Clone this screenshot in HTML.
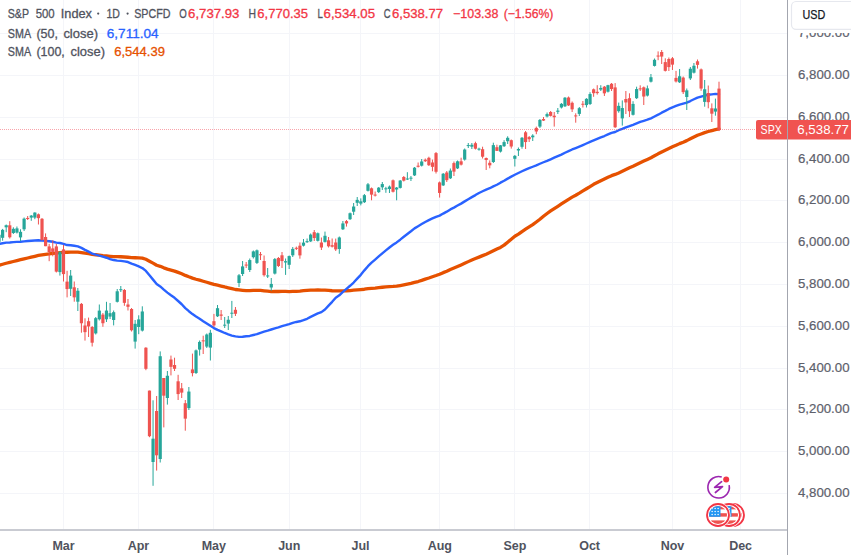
<!DOCTYPE html>
<html><head><meta charset="utf-8"><style>
html,body{margin:0;padding:0;background:#fff;}
body{width:851px;height:555px;overflow:hidden;position:relative;font-family:"Liberation Sans",sans-serif;}
</style></head><body>
<svg width="851" height="555" viewBox="0 0 851 555" style="position:absolute;left:0;top:0">
<line x1="0" y1="493.5" x2="787" y2="493.5" stroke="#f4f5f9" stroke-width="1"/>
<line x1="0" y1="451.5" x2="787" y2="451.5" stroke="#f4f5f9" stroke-width="1"/>
<line x1="0" y1="409.5" x2="787" y2="409.5" stroke="#f4f5f9" stroke-width="1"/>
<line x1="0" y1="368.5" x2="787" y2="368.5" stroke="#f4f5f9" stroke-width="1"/>
<line x1="0" y1="326.5" x2="787" y2="326.5" stroke="#f4f5f9" stroke-width="1"/>
<line x1="0" y1="284.5" x2="787" y2="284.5" stroke="#f4f5f9" stroke-width="1"/>
<line x1="0" y1="242.5" x2="787" y2="242.5" stroke="#f4f5f9" stroke-width="1"/>
<line x1="0" y1="200.5" x2="787" y2="200.5" stroke="#f4f5f9" stroke-width="1"/>
<line x1="0" y1="159.5" x2="787" y2="159.5" stroke="#f4f5f9" stroke-width="1"/>
<line x1="0" y1="117.5" x2="787" y2="117.5" stroke="#f4f5f9" stroke-width="1"/>
<line x1="0" y1="75.5" x2="787" y2="75.5" stroke="#f4f5f9" stroke-width="1"/>
<line x1="0" y1="33.5" x2="787" y2="33.5" stroke="#f4f5f9" stroke-width="1"/>
<line x1="63.5" y1="0" x2="63.5" y2="529" stroke="#f4f5f9" stroke-width="1"/>
<line x1="138.5" y1="0" x2="138.5" y2="529" stroke="#f4f5f9" stroke-width="1"/>
<line x1="213.5" y1="0" x2="213.5" y2="529" stroke="#f4f5f9" stroke-width="1"/>
<line x1="289.5" y1="0" x2="289.5" y2="529" stroke="#f4f5f9" stroke-width="1"/>
<line x1="360.5" y1="0" x2="360.5" y2="529" stroke="#f4f5f9" stroke-width="1"/>
<line x1="439.5" y1="0" x2="439.5" y2="529" stroke="#f4f5f9" stroke-width="1"/>
<line x1="514.5" y1="0" x2="514.5" y2="529" stroke="#f4f5f9" stroke-width="1"/>
<line x1="589.5" y1="0" x2="589.5" y2="529" stroke="#f4f5f9" stroke-width="1"/>
<line x1="672.5" y1="0" x2="672.5" y2="529" stroke="#f4f5f9" stroke-width="1"/>
<line x1="740.5" y1="0" x2="740.5" y2="529" stroke="#f4f5f9" stroke-width="1"/>
<polyline points="-0.98,265.33 2.61,264.27 6.19,263.25 9.77,262.42 13.35,261.51 16.93,260.60 20.52,259.70 24.10,258.86 27.68,258.00 31.26,257.14 34.84,256.28 38.43,255.45 42.01,254.89 45.59,254.38 49.17,253.98 52.75,253.46 56.34,253.14 59.92,252.61 63.50,252.40 67.08,252.23 70.66,252.04 74.25,252.15 77.83,252.17 81.41,252.59 84.99,253.19 88.57,253.65 92.16,254.32 95.74,254.74 99.32,255.14 102.90,255.64 106.48,256.00 110.07,256.29 113.65,256.58 117.23,256.67 120.81,256.77 124.39,257.02 127.98,257.27 131.56,257.53 135.14,257.77 138.72,257.94 142.30,258.17 145.89,259.29 149.47,261.17 153.05,263.12 156.63,265.25 160.21,266.35 163.80,267.85 167.38,269.07 170.96,270.04 174.54,271.08 178.12,272.42 181.71,273.75 185.29,275.40 188.87,276.82 192.45,278.10 196.03,279.22 199.62,280.21 203.20,281.27 206.78,282.28 210.36,283.29 213.94,284.29 217.53,285.11 221.11,286.03 224.69,286.96 228.27,287.80 231.85,288.68 235.44,289.50 239.02,289.93 242.60,290.32 246.18,290.65 249.76,290.56 253.35,290.37 256.93,290.30 260.51,290.37 264.09,290.78 267.67,291.19 271.26,291.54 274.84,291.51 278.42,291.49 282.00,291.40 285.58,291.47 289.17,291.55 292.75,291.42 296.33,291.31 299.91,291.08 303.49,290.73 307.08,290.39 310.66,290.21 314.24,290.03 317.82,289.93 321.40,290.08 324.99,290.19 328.57,290.47 332.15,290.73 335.73,290.82 339.31,290.91 342.90,290.80 346.48,290.75 350.06,290.54 353.64,290.17 357.22,289.82 360.81,289.54 364.39,289.24 367.97,288.71 371.55,288.36 375.13,288.04 378.72,287.59 382.30,287.25 385.88,286.94 389.46,286.65 393.04,286.45 396.63,286.14 400.21,285.55 403.79,284.89 407.37,284.16 410.95,283.42 414.54,282.38 418.12,281.53 421.70,280.40 425.28,279.12 428.86,278.02 432.45,276.71 436.03,275.52 439.61,274.22 443.19,272.64 446.77,271.17 450.36,269.45 453.94,267.99 457.52,266.49 461.10,264.91 464.68,263.30 468.27,261.62 471.85,259.94 475.43,258.52 479.01,257.11 482.59,255.65 486.18,254.18 489.76,252.53 493.34,250.75 496.92,249.06 500.50,247.40 504.09,245.13 507.67,242.15 511.25,239.23 514.83,236.23 518.41,234.16 522.00,231.58 525.58,229.24 529.16,226.97 532.74,224.64 536.32,222.01 539.91,219.28 543.49,216.30 547.07,213.53 550.65,210.96 554.23,208.62 557.82,206.31 561.40,203.94 564.98,201.57 568.56,199.30 572.14,197.14 575.73,195.22 579.31,193.14 582.89,190.94 586.47,188.73 590.05,186.54 593.64,184.33 597.22,182.51 600.80,180.73 604.38,179.01 607.96,177.26 611.55,175.64 615.13,174.41 618.71,172.91 622.29,171.24 625.87,169.51 629.46,167.78 633.04,166.23 636.62,164.46 640.20,162.74 643.78,161.09 647.37,159.42 650.95,157.70 654.53,155.81 658.11,153.82 661.69,151.96 665.28,150.25 668.86,148.58 672.44,146.85 676.02,145.33 679.60,143.62 683.19,142.18 686.77,140.62 690.35,138.84 693.93,137.00 697.51,135.28 701.10,133.93 704.68,132.59 708.26,131.48 711.84,130.55 715.42,129.63 719.01,128.92" fill="none" stroke="#e65100" stroke-width="3.3" stroke-linejoin="round" stroke-linecap="round"/>
<polyline points="-0.98,243.84 2.61,243.24 6.19,242.67 9.77,242.44 13.35,242.11 16.93,241.91 20.52,241.69 24.10,241.34 27.68,241.06 31.26,240.73 34.84,240.49 38.43,240.31 42.01,240.63 45.59,240.92 49.17,241.25 52.75,241.79 56.34,242.58 59.92,242.99 63.50,243.92 67.08,245.06 70.66,245.19 74.25,245.72 77.83,246.40 81.41,247.90 84.99,249.86 88.57,251.69 92.16,253.57 95.74,254.69 99.32,255.55 102.90,256.61 106.48,257.73 110.07,259.03 113.65,260.04 117.23,260.67 120.81,260.88 124.39,261.40 127.98,262.03 131.56,263.57 135.14,264.93 138.72,266.45 142.30,268.03 145.89,270.91 149.47,275.28 153.05,279.62 156.63,283.93 160.21,286.48 163.80,289.70 167.38,292.66 170.96,295.31 174.54,297.81 178.12,301.00 181.71,304.26 185.29,308.12 188.87,311.21 192.45,314.10 196.03,316.54 199.62,318.74 203.20,321.19 206.78,323.50 210.36,325.85 213.94,328.10 217.53,329.90 221.11,331.42 224.69,332.99 228.27,334.35 231.85,335.57 235.44,336.41 239.02,336.87 242.60,336.72 246.18,336.24 249.76,335.93 253.35,335.01 256.93,334.20 260.51,332.84 264.09,331.70 267.67,330.69 271.26,329.51 274.84,328.33 278.42,327.44 282.00,326.19 285.58,325.21 289.17,324.06 292.75,322.80 296.33,321.95 299.91,321.27 303.49,320.07 307.08,318.76 310.66,316.84 314.24,315.13 317.82,313.41 321.40,312.13 324.99,309.47 328.57,305.67 332.15,301.83 335.73,297.71 339.31,295.34 342.90,291.89 346.48,288.84 350.06,285.77 353.64,282.53 357.22,278.64 360.81,274.82 364.39,270.35 367.97,266.20 371.55,262.63 375.13,259.54 378.72,256.45 382.30,253.31 385.88,250.39 389.46,247.46 393.04,244.79 396.63,242.38 400.21,239.67 403.79,236.79 407.37,233.97 410.95,231.27 414.54,228.35 418.12,226.18 421.70,224.08 425.28,222.00 428.86,220.10 432.45,218.41 436.03,216.84 439.61,215.60 443.19,213.57 446.77,211.66 450.36,209.39 453.94,207.64 457.52,205.55 461.10,203.62 464.68,201.39 468.27,199.17 471.85,197.09 475.43,195.09 479.01,192.96 482.59,191.24 486.18,189.61 489.76,188.22 493.34,186.36 496.92,184.72 500.50,182.67 504.09,180.80 507.67,178.63 511.25,176.63 514.83,174.75 518.41,172.99 522.00,171.27 525.58,169.64 529.16,168.16 532.74,166.75 536.32,165.38 539.91,163.75 543.49,162.26 547.07,160.85 550.65,159.28 554.23,157.71 557.82,156.17 561.40,154.57 564.98,152.75 568.56,151.13 572.14,149.48 575.73,148.06 579.31,146.61 582.89,145.08 586.47,143.48 590.05,141.81 593.64,140.32 597.22,138.84 600.80,137.37 604.38,136.02 607.96,134.41 611.55,132.86 615.13,131.97 618.71,130.23 622.29,128.91 625.87,127.36 629.46,126.17 633.04,124.82 636.62,123.37 640.20,121.86 643.78,120.80 647.37,119.66 650.95,118.31 654.53,116.53 658.11,114.69 661.69,112.68 665.28,110.90 668.86,108.94 672.44,107.33 676.02,105.94 679.60,104.56 683.19,103.56 686.77,102.61 690.35,101.05 693.93,99.25 697.51,97.57 701.10,96.58 704.68,95.53 708.26,94.79 711.84,94.35 715.42,93.89 719.01,94.09" fill="none" stroke="#2962ff" stroke-width="2.4" stroke-linejoin="round" stroke-linecap="round"/>
<line x1="-0.98" y1="233.90" x2="-0.98" y2="244.80" stroke="#26a69a" stroke-width="1"/>
<rect x="-2.58" y="234.78" width="3.2" height="7.02" fill="#26a69a"/>
<line x1="2.61" y1="228.90" x2="2.61" y2="240.70" stroke="#26a69a" stroke-width="1"/>
<rect x="1.01" y="229.85" width="3.2" height="7.95" fill="#26a69a"/>
<line x1="6.19" y1="224.50" x2="6.19" y2="232.20" stroke="#26a69a" stroke-width="1"/>
<rect x="4.59" y="225.23" width="3.2" height="2.07" fill="#26a69a"/>
<line x1="9.77" y1="221.20" x2="9.77" y2="238.50" stroke="#ef5350" stroke-width="1"/>
<rect x="8.17" y="225.30" width="3.2" height="11.97" fill="#ef5350"/>
<line x1="13.35" y1="227.30" x2="13.35" y2="234.00" stroke="#26a69a" stroke-width="1"/>
<rect x="11.75" y="228.81" width="3.2" height="4.19" fill="#26a69a"/>
<line x1="16.93" y1="226.50" x2="16.93" y2="233.50" stroke="#26a69a" stroke-width="1"/>
<rect x="15.33" y="228.38" width="3.2" height="4.22" fill="#26a69a"/>
<line x1="20.52" y1="229.30" x2="20.52" y2="241.10" stroke="#26a69a" stroke-width="1"/>
<rect x="18.92" y="231.84" width="3.2" height="5.56" fill="#26a69a"/>
<line x1="24.10" y1="217.50" x2="24.10" y2="231.00" stroke="#26a69a" stroke-width="1"/>
<rect x="22.50" y="218.65" width="3.2" height="10.65" fill="#26a69a"/>
<line x1="27.68" y1="216.00" x2="27.68" y2="220.00" stroke="#ef5350" stroke-width="1"/>
<rect x="26.08" y="217.97" width="3.2" height="1.00" fill="#ef5350"/>
<line x1="31.26" y1="215.00" x2="31.26" y2="220.80" stroke="#26a69a" stroke-width="1"/>
<rect x="29.66" y="215.62" width="3.2" height="1.98" fill="#26a69a"/>
<line x1="34.84" y1="212.30" x2="34.84" y2="219.20" stroke="#26a69a" stroke-width="1"/>
<rect x="33.24" y="212.57" width="3.2" height="5.03" fill="#26a69a"/>
<line x1="38.43" y1="213.50" x2="38.43" y2="224.50" stroke="#ef5350" stroke-width="1"/>
<rect x="36.83" y="214.30" width="3.2" height="3.84" fill="#ef5350"/>
<line x1="42.01" y1="218.00" x2="42.01" y2="240.50" stroke="#ef5350" stroke-width="1"/>
<rect x="40.41" y="218.80" width="3.2" height="21.16" fill="#ef5350"/>
<line x1="45.59" y1="233.40" x2="45.59" y2="246.20" stroke="#ef5350" stroke-width="1"/>
<rect x="43.99" y="237.00" width="3.2" height="9.20" fill="#ef5350"/>
<line x1="49.17" y1="243.90" x2="49.17" y2="261.20" stroke="#ef5350" stroke-width="1"/>
<rect x="47.57" y="246.40" width="3.2" height="5.65" fill="#ef5350"/>
<line x1="52.75" y1="240.40" x2="52.75" y2="256.30" stroke="#ef5350" stroke-width="1"/>
<rect x="51.15" y="248.40" width="3.2" height="3.48" fill="#ef5350"/>
<line x1="56.34" y1="243.90" x2="56.34" y2="272.50" stroke="#ef5350" stroke-width="1"/>
<rect x="54.74" y="246.40" width="3.2" height="25.23" fill="#ef5350"/>
<line x1="59.92" y1="251.00" x2="59.92" y2="275.60" stroke="#26a69a" stroke-width="1"/>
<rect x="58.32" y="252.21" width="3.2" height="19.89" fill="#26a69a"/>
<line x1="63.50" y1="244.90" x2="63.50" y2="281.50" stroke="#ef5350" stroke-width="1"/>
<rect x="61.90" y="249.40" width="3.2" height="24.71" fill="#ef5350"/>
<line x1="67.08" y1="270.80" x2="67.08" y2="297.40" stroke="#ef5350" stroke-width="1"/>
<rect x="65.48" y="281.60" width="3.2" height="7.47" fill="#ef5350"/>
<line x1="70.66" y1="270.00" x2="70.66" y2="296.00" stroke="#26a69a" stroke-width="1"/>
<rect x="69.06" y="275.59" width="3.2" height="13.21" fill="#26a69a"/>
<line x1="74.25" y1="281.50" x2="74.25" y2="301.70" stroke="#ef5350" stroke-width="1"/>
<rect x="72.65" y="287.30" width="3.2" height="10.05" fill="#ef5350"/>
<line x1="77.83" y1="288.00" x2="77.83" y2="311.00" stroke="#26a69a" stroke-width="1"/>
<rect x="76.23" y="290.73" width="3.2" height="10.97" fill="#26a69a"/>
<line x1="81.41" y1="303.00" x2="81.41" y2="332.70" stroke="#ef5350" stroke-width="1"/>
<rect x="79.81" y="303.90" width="3.2" height="19.36" fill="#ef5350"/>
<line x1="84.99" y1="318.30" x2="84.99" y2="340.60" stroke="#ef5350" stroke-width="1"/>
<rect x="83.39" y="325.50" width="3.2" height="6.64" fill="#ef5350"/>
<line x1="88.57" y1="317.60" x2="88.57" y2="337.00" stroke="#ef5350" stroke-width="1"/>
<rect x="86.97" y="321.20" width="3.2" height="5.25" fill="#ef5350"/>
<line x1="92.16" y1="326.00" x2="92.16" y2="346.50" stroke="#ef5350" stroke-width="1"/>
<rect x="90.56" y="327.00" width="3.2" height="15.70" fill="#ef5350"/>
<line x1="95.74" y1="317.00" x2="95.74" y2="334.50" stroke="#26a69a" stroke-width="1"/>
<rect x="94.14" y="318.16" width="3.2" height="15.24" fill="#26a69a"/>
<line x1="99.32" y1="304.50" x2="99.32" y2="320.50" stroke="#26a69a" stroke-width="1"/>
<rect x="97.72" y="310.60" width="3.2" height="8.70" fill="#26a69a"/>
<line x1="102.90" y1="313.00" x2="102.90" y2="326.80" stroke="#ef5350" stroke-width="1"/>
<rect x="101.30" y="314.60" width="3.2" height="8.64" fill="#ef5350"/>
<line x1="106.48" y1="301.80" x2="106.48" y2="322.00" stroke="#26a69a" stroke-width="1"/>
<rect x="104.88" y="310.56" width="3.2" height="8.74" fill="#26a69a"/>
<line x1="110.07" y1="303.00" x2="110.07" y2="319.00" stroke="#26a69a" stroke-width="1"/>
<rect x="108.47" y="313.16" width="3.2" height="3.44" fill="#26a69a"/>
<line x1="113.65" y1="310.50" x2="113.65" y2="325.40" stroke="#26a69a" stroke-width="1"/>
<rect x="112.05" y="312.18" width="3.2" height="7.82" fill="#26a69a"/>
<line x1="117.23" y1="289.00" x2="117.23" y2="302.50" stroke="#26a69a" stroke-width="1"/>
<rect x="115.63" y="291.28" width="3.2" height="10.52" fill="#26a69a"/>
<line x1="120.81" y1="286.00" x2="120.81" y2="292.00" stroke="#26a69a" stroke-width="1"/>
<rect x="119.21" y="289.19" width="3.2" height="1.00" fill="#26a69a"/>
<line x1="124.39" y1="289.00" x2="124.39" y2="305.80" stroke="#ef5350" stroke-width="1"/>
<rect x="122.79" y="290.00" width="3.2" height="12.85" fill="#ef5350"/>
<line x1="127.98" y1="299.00" x2="127.98" y2="310.50" stroke="#ef5350" stroke-width="1"/>
<rect x="126.38" y="304.50" width="3.2" height="2.30" fill="#ef5350"/>
<line x1="131.56" y1="308.00" x2="131.56" y2="331.50" stroke="#ef5350" stroke-width="1"/>
<rect x="129.96" y="309.00" width="3.2" height="21.28" fill="#ef5350"/>
<line x1="135.14" y1="320.00" x2="135.14" y2="348.60" stroke="#26a69a" stroke-width="1"/>
<rect x="133.54" y="323.82" width="3.2" height="17.78" fill="#26a69a"/>
<line x1="138.72" y1="315.30" x2="138.72" y2="334.20" stroke="#26a69a" stroke-width="1"/>
<rect x="137.12" y="319.39" width="3.2" height="7.61" fill="#26a69a"/>
<line x1="142.30" y1="306.30" x2="142.30" y2="331.50" stroke="#26a69a" stroke-width="1"/>
<rect x="140.70" y="311.47" width="3.2" height="19.13" fill="#26a69a"/>
<line x1="145.89" y1="347.20" x2="145.89" y2="370.20" stroke="#ef5350" stroke-width="1"/>
<rect x="144.29" y="347.70" width="3.2" height="21.13" fill="#ef5350"/>
<line x1="149.47" y1="390.60" x2="149.47" y2="437.20" stroke="#ef5350" stroke-width="1"/>
<rect x="147.87" y="390.60" width="3.2" height="45.62" fill="#ef5350"/>
<line x1="153.05" y1="400.30" x2="153.05" y2="485.80" stroke="#26a69a" stroke-width="1"/>
<rect x="151.45" y="438.69" width="3.2" height="23.31" fill="#26a69a"/>
<line x1="156.63" y1="396.00" x2="156.63" y2="470.60" stroke="#ef5350" stroke-width="1"/>
<rect x="155.03" y="411.00" width="3.2" height="44.30" fill="#ef5350"/>
<line x1="160.21" y1="351.40" x2="160.21" y2="462.50" stroke="#26a69a" stroke-width="1"/>
<rect x="158.61" y="356.21" width="3.2" height="102.79" fill="#26a69a"/>
<line x1="163.80" y1="378.00" x2="163.80" y2="427.40" stroke="#ef5350" stroke-width="1"/>
<rect x="162.20" y="378.00" width="3.2" height="17.68" fill="#ef5350"/>
<line x1="167.38" y1="371.00" x2="167.38" y2="404.60" stroke="#26a69a" stroke-width="1"/>
<rect x="165.78" y="375.76" width="3.2" height="22.24" fill="#26a69a"/>
<line x1="170.96" y1="355.60" x2="170.96" y2="375.40" stroke="#ef5350" stroke-width="1"/>
<rect x="169.36" y="359.50" width="3.2" height="7.35" fill="#ef5350"/>
<line x1="174.54" y1="357.70" x2="174.54" y2="371.00" stroke="#ef5350" stroke-width="1"/>
<rect x="172.94" y="365.00" width="3.2" height="3.80" fill="#ef5350"/>
<line x1="178.12" y1="374.80" x2="178.12" y2="400.00" stroke="#ef5350" stroke-width="1"/>
<rect x="176.52" y="381.30" width="3.2" height="12.78" fill="#ef5350"/>
<line x1="181.71" y1="383.00" x2="181.71" y2="398.00" stroke="#ef5350" stroke-width="1"/>
<rect x="180.11" y="388.30" width="3.2" height="4.32" fill="#ef5350"/>
<line x1="185.29" y1="400.00" x2="185.29" y2="430.70" stroke="#ef5350" stroke-width="1"/>
<rect x="183.69" y="403.20" width="3.2" height="15.44" fill="#ef5350"/>
<line x1="188.87" y1="387.00" x2="188.87" y2="410.00" stroke="#26a69a" stroke-width="1"/>
<rect x="187.27" y="391.56" width="3.2" height="16.54" fill="#26a69a"/>
<line x1="192.45" y1="353.60" x2="192.45" y2="376.40" stroke="#ef5350" stroke-width="1"/>
<rect x="190.85" y="369.40" width="3.2" height="3.75" fill="#ef5350"/>
<line x1="196.03" y1="349.50" x2="196.03" y2="374.00" stroke="#26a69a" stroke-width="1"/>
<rect x="194.43" y="350.38" width="3.2" height="22.62" fill="#26a69a"/>
<line x1="199.62" y1="340.50" x2="199.62" y2="355.60" stroke="#26a69a" stroke-width="1"/>
<rect x="198.02" y="341.93" width="3.2" height="7.67" fill="#26a69a"/>
<line x1="203.20" y1="335.70" x2="203.20" y2="354.00" stroke="#ef5350" stroke-width="1"/>
<rect x="201.60" y="340.35" width="3.2" height="1.00" fill="#ef5350"/>
<line x1="206.78" y1="333.50" x2="206.78" y2="348.00" stroke="#26a69a" stroke-width="1"/>
<rect x="205.18" y="334.49" width="3.2" height="12.11" fill="#26a69a"/>
<line x1="210.36" y1="329.80" x2="210.36" y2="360.50" stroke="#26a69a" stroke-width="1"/>
<rect x="208.76" y="332.77" width="3.2" height="14.83" fill="#26a69a"/>
<line x1="213.94" y1="313.90" x2="213.94" y2="327.00" stroke="#ef5350" stroke-width="1"/>
<rect x="212.34" y="321.20" width="3.2" height="4.23" fill="#ef5350"/>
<line x1="217.53" y1="305.00" x2="217.53" y2="317.00" stroke="#26a69a" stroke-width="1"/>
<rect x="215.93" y="308.19" width="3.2" height="8.11" fill="#26a69a"/>
<line x1="221.11" y1="310.00" x2="221.11" y2="320.00" stroke="#ef5350" stroke-width="1"/>
<rect x="219.51" y="314.50" width="3.2" height="1.27" fill="#ef5350"/>
<line x1="224.69" y1="317.00" x2="224.69" y2="328.00" stroke="#26a69a" stroke-width="1"/>
<rect x="223.09" y="324.68" width="3.2" height="1.00" fill="#26a69a"/>
<line x1="228.27" y1="316.00" x2="228.27" y2="330.00" stroke="#26a69a" stroke-width="1"/>
<rect x="226.67" y="319.76" width="3.2" height="3.84" fill="#26a69a"/>
<line x1="231.85" y1="300.90" x2="231.85" y2="318.00" stroke="#26a69a" stroke-width="1"/>
<rect x="230.25" y="312.72" width="3.2" height="1.00" fill="#26a69a"/>
<line x1="235.44" y1="307.00" x2="235.44" y2="316.00" stroke="#ef5350" stroke-width="1"/>
<rect x="233.84" y="309.80" width="3.2" height="3.98" fill="#ef5350"/>
<line x1="239.02" y1="274.00" x2="239.02" y2="287.00" stroke="#26a69a" stroke-width="1"/>
<rect x="237.42" y="275.26" width="3.2" height="7.74" fill="#26a69a"/>
<line x1="242.60" y1="261.00" x2="242.60" y2="276.00" stroke="#26a69a" stroke-width="1"/>
<rect x="241.00" y="266.41" width="3.2" height="7.59" fill="#26a69a"/>
<line x1="246.18" y1="262.00" x2="246.18" y2="268.00" stroke="#ef5350" stroke-width="1"/>
<rect x="244.58" y="264.58" width="3.2" height="1.00" fill="#ef5350"/>
<line x1="249.76" y1="258.50" x2="249.76" y2="272.00" stroke="#26a69a" stroke-width="1"/>
<rect x="248.16" y="260.06" width="3.2" height="9.94" fill="#26a69a"/>
<line x1="253.35" y1="250.50" x2="253.35" y2="258.50" stroke="#26a69a" stroke-width="1"/>
<rect x="251.75" y="251.40" width="3.2" height="5.80" fill="#26a69a"/>
<line x1="256.93" y1="249.50" x2="256.93" y2="264.00" stroke="#26a69a" stroke-width="1"/>
<rect x="255.33" y="250.31" width="3.2" height="12.59" fill="#26a69a"/>
<line x1="260.51" y1="252.00" x2="260.51" y2="260.00" stroke="#ef5350" stroke-width="1"/>
<rect x="258.91" y="254.22" width="3.2" height="1.00" fill="#ef5350"/>
<line x1="264.09" y1="255.50" x2="264.09" y2="276.60" stroke="#ef5350" stroke-width="1"/>
<rect x="262.49" y="261.00" width="3.2" height="14.18" fill="#ef5350"/>
<line x1="267.67" y1="268.00" x2="267.67" y2="278.00" stroke="#26a69a" stroke-width="1"/>
<rect x="266.07" y="275.46" width="3.2" height="1.00" fill="#26a69a"/>
<line x1="271.26" y1="278.00" x2="271.26" y2="290.70" stroke="#26a69a" stroke-width="1"/>
<rect x="269.66" y="283.91" width="3.2" height="3.59" fill="#26a69a"/>
<line x1="274.84" y1="258.00" x2="274.84" y2="274.50" stroke="#26a69a" stroke-width="1"/>
<rect x="273.24" y="259.10" width="3.2" height="14.50" fill="#26a69a"/>
<line x1="278.42" y1="257.00" x2="278.42" y2="267.00" stroke="#ef5350" stroke-width="1"/>
<rect x="276.82" y="258.00" width="3.2" height="7.99" fill="#ef5350"/>
<line x1="282.00" y1="252.00" x2="282.00" y2="268.00" stroke="#ef5350" stroke-width="1"/>
<rect x="280.40" y="255.30" width="3.2" height="5.76" fill="#ef5350"/>
<line x1="285.58" y1="258.50" x2="285.58" y2="274.90" stroke="#26a69a" stroke-width="1"/>
<rect x="283.98" y="261.16" width="3.2" height="1.34" fill="#26a69a"/>
<line x1="289.17" y1="255.50" x2="289.17" y2="269.00" stroke="#26a69a" stroke-width="1"/>
<rect x="287.57" y="256.09" width="3.2" height="8.71" fill="#26a69a"/>
<line x1="292.75" y1="247.00" x2="292.75" y2="257.00" stroke="#26a69a" stroke-width="1"/>
<rect x="291.15" y="248.89" width="3.2" height="6.41" fill="#26a69a"/>
<line x1="296.33" y1="246.60" x2="296.33" y2="250.00" stroke="#ef5350" stroke-width="1"/>
<rect x="294.73" y="247.80" width="3.2" height="1.00" fill="#ef5350"/>
<line x1="299.91" y1="242.50" x2="299.91" y2="258.70" stroke="#ef5350" stroke-width="1"/>
<rect x="298.31" y="245.70" width="3.2" height="9.69" fill="#ef5350"/>
<line x1="303.49" y1="239.00" x2="303.49" y2="246.50" stroke="#26a69a" stroke-width="1"/>
<rect x="301.89" y="242.62" width="3.2" height="3.08" fill="#26a69a"/>
<line x1="307.08" y1="238.50" x2="307.08" y2="243.00" stroke="#26a69a" stroke-width="1"/>
<rect x="305.48" y="241.14" width="3.2" height="1.00" fill="#26a69a"/>
<line x1="310.66" y1="233.50" x2="310.66" y2="242.00" stroke="#26a69a" stroke-width="1"/>
<rect x="309.06" y="234.59" width="3.2" height="6.81" fill="#26a69a"/>
<line x1="314.24" y1="230.00" x2="314.24" y2="241.00" stroke="#ef5350" stroke-width="1"/>
<rect x="312.64" y="232.20" width="3.2" height="5.85" fill="#ef5350"/>
<line x1="317.82" y1="232.50" x2="317.82" y2="241.50" stroke="#26a69a" stroke-width="1"/>
<rect x="316.22" y="233.24" width="3.2" height="7.56" fill="#26a69a"/>
<line x1="321.40" y1="237.50" x2="321.40" y2="250.00" stroke="#ef5350" stroke-width="1"/>
<rect x="319.80" y="242.50" width="3.2" height="5.01" fill="#ef5350"/>
<line x1="324.99" y1="231.60" x2="324.99" y2="242.50" stroke="#26a69a" stroke-width="1"/>
<rect x="323.39" y="235.78" width="3.2" height="6.12" fill="#26a69a"/>
<line x1="328.57" y1="237.00" x2="328.57" y2="247.50" stroke="#ef5350" stroke-width="1"/>
<rect x="326.97" y="240.30" width="3.2" height="6.01" fill="#ef5350"/>
<line x1="332.15" y1="238.50" x2="332.15" y2="247.50" stroke="#ef5350" stroke-width="1"/>
<rect x="330.55" y="245.20" width="3.2" height="1.50" fill="#ef5350"/>
<line x1="335.73" y1="238.60" x2="335.73" y2="251.00" stroke="#ef5350" stroke-width="1"/>
<rect x="334.13" y="242.50" width="3.2" height="6.92" fill="#ef5350"/>
<line x1="339.31" y1="236.50" x2="339.31" y2="253.80" stroke="#26a69a" stroke-width="1"/>
<rect x="337.71" y="237.44" width="3.2" height="11.56" fill="#26a69a"/>
<line x1="342.90" y1="221.00" x2="342.90" y2="230.00" stroke="#26a69a" stroke-width="1"/>
<rect x="341.30" y="223.43" width="3.2" height="5.87" fill="#26a69a"/>
<line x1="346.48" y1="220.00" x2="346.48" y2="226.60" stroke="#ef5350" stroke-width="1"/>
<rect x="344.88" y="221.10" width="3.2" height="2.34" fill="#ef5350"/>
<line x1="350.06" y1="212.50" x2="350.06" y2="220.00" stroke="#26a69a" stroke-width="1"/>
<rect x="348.46" y="213.23" width="3.2" height="5.97" fill="#26a69a"/>
<line x1="353.64" y1="203.00" x2="353.64" y2="215.00" stroke="#26a69a" stroke-width="1"/>
<rect x="352.04" y="206.53" width="3.2" height="5.17" fill="#26a69a"/>
<line x1="357.22" y1="197.00" x2="357.22" y2="206.00" stroke="#26a69a" stroke-width="1"/>
<rect x="355.62" y="199.87" width="3.2" height="2.93" fill="#26a69a"/>
<line x1="360.81" y1="198.40" x2="360.81" y2="205.40" stroke="#26a69a" stroke-width="1"/>
<rect x="359.21" y="201.32" width="3.2" height="2.28" fill="#26a69a"/>
<line x1="364.39" y1="194.00" x2="364.39" y2="203.00" stroke="#26a69a" stroke-width="1"/>
<rect x="362.79" y="195.17" width="3.2" height="7.03" fill="#26a69a"/>
<line x1="367.97" y1="183.00" x2="367.97" y2="191.50" stroke="#26a69a" stroke-width="1"/>
<rect x="366.37" y="184.32" width="3.2" height="6.48" fill="#26a69a"/>
<line x1="371.55" y1="187.50" x2="371.55" y2="200.30" stroke="#ef5350" stroke-width="1"/>
<rect x="369.95" y="188.30" width="3.2" height="6.33" fill="#ef5350"/>
<line x1="375.13" y1="191.50" x2="375.13" y2="196.50" stroke="#ef5350" stroke-width="1"/>
<rect x="373.53" y="194.58" width="3.2" height="1.00" fill="#ef5350"/>
<line x1="378.72" y1="187.00" x2="378.72" y2="193.00" stroke="#26a69a" stroke-width="1"/>
<rect x="377.12" y="187.68" width="3.2" height="4.42" fill="#26a69a"/>
<line x1="382.30" y1="182.00" x2="382.30" y2="190.00" stroke="#26a69a" stroke-width="1"/>
<rect x="380.70" y="184.08" width="3.2" height="3.22" fill="#26a69a"/>
<line x1="385.88" y1="186.80" x2="385.88" y2="192.80" stroke="#26a69a" stroke-width="1"/>
<rect x="384.28" y="188.31" width="3.2" height="1.00" fill="#26a69a"/>
<line x1="389.46" y1="185.50" x2="389.46" y2="193.00" stroke="#26a69a" stroke-width="1"/>
<rect x="387.86" y="186.57" width="3.2" height="2.43" fill="#26a69a"/>
<line x1="393.04" y1="179.50" x2="393.04" y2="192.50" stroke="#ef5350" stroke-width="1"/>
<rect x="391.44" y="180.30" width="3.2" height="11.45" fill="#ef5350"/>
<line x1="396.63" y1="187.00" x2="396.63" y2="200.30" stroke="#26a69a" stroke-width="1"/>
<rect x="395.03" y="187.59" width="3.2" height="1.91" fill="#26a69a"/>
<line x1="400.21" y1="180.00" x2="400.21" y2="188.50" stroke="#26a69a" stroke-width="1"/>
<rect x="398.61" y="180.55" width="3.2" height="7.35" fill="#26a69a"/>
<line x1="403.79" y1="176.00" x2="403.79" y2="181.50" stroke="#ef5350" stroke-width="1"/>
<rect x="402.19" y="177.00" width="3.2" height="3.67" fill="#ef5350"/>
<line x1="407.37" y1="172.20" x2="407.37" y2="180.00" stroke="#26a69a" stroke-width="1"/>
<rect x="405.77" y="178.51" width="3.2" height="1.00" fill="#26a69a"/>
<line x1="410.95" y1="176.00" x2="410.95" y2="181.00" stroke="#26a69a" stroke-width="1"/>
<rect x="409.35" y="177.69" width="3.2" height="1.00" fill="#26a69a"/>
<line x1="414.54" y1="167.00" x2="414.54" y2="176.00" stroke="#26a69a" stroke-width="1"/>
<rect x="412.94" y="167.69" width="3.2" height="7.71" fill="#26a69a"/>
<line x1="418.12" y1="162.50" x2="418.12" y2="167.50" stroke="#ef5350" stroke-width="1"/>
<rect x="416.52" y="165.70" width="3.2" height="1.06" fill="#ef5350"/>
<line x1="421.70" y1="159.00" x2="421.70" y2="166.50" stroke="#26a69a" stroke-width="1"/>
<rect x="420.10" y="161.47" width="3.2" height="4.23" fill="#26a69a"/>
<line x1="425.28" y1="158.50" x2="425.28" y2="162.00" stroke="#ef5350" stroke-width="1"/>
<rect x="423.68" y="159.70" width="3.2" height="1.54" fill="#ef5350"/>
<line x1="428.86" y1="156.70" x2="428.86" y2="166.00" stroke="#ef5350" stroke-width="1"/>
<rect x="427.26" y="157.80" width="3.2" height="7.39" fill="#ef5350"/>
<line x1="432.45" y1="159.60" x2="432.45" y2="171.30" stroke="#ef5350" stroke-width="1"/>
<rect x="430.85" y="162.50" width="3.2" height="4.35" fill="#ef5350"/>
<line x1="436.03" y1="152.00" x2="436.03" y2="173.50" stroke="#ef5350" stroke-width="1"/>
<rect x="434.43" y="153.10" width="3.2" height="18.67" fill="#ef5350"/>
<line x1="439.61" y1="181.50" x2="439.61" y2="197.60" stroke="#ef5350" stroke-width="1"/>
<rect x="438.01" y="182.40" width="3.2" height="10.56" fill="#ef5350"/>
<line x1="443.19" y1="173.00" x2="443.19" y2="186.00" stroke="#26a69a" stroke-width="1"/>
<rect x="441.59" y="173.74" width="3.2" height="11.66" fill="#26a69a"/>
<line x1="446.77" y1="171.00" x2="446.77" y2="182.00" stroke="#ef5350" stroke-width="1"/>
<rect x="445.17" y="172.50" width="3.2" height="7.67" fill="#ef5350"/>
<line x1="450.36" y1="168.50" x2="450.36" y2="179.00" stroke="#26a69a" stroke-width="1"/>
<rect x="448.76" y="170.58" width="3.2" height="7.72" fill="#26a69a"/>
<line x1="453.94" y1="161.50" x2="453.94" y2="176.00" stroke="#ef5350" stroke-width="1"/>
<rect x="452.34" y="163.10" width="3.2" height="8.54" fill="#ef5350"/>
<line x1="457.52" y1="160.50" x2="457.52" y2="169.00" stroke="#26a69a" stroke-width="1"/>
<rect x="455.92" y="161.30" width="3.2" height="7.10" fill="#26a69a"/>
<line x1="461.10" y1="157.70" x2="461.10" y2="165.50" stroke="#ef5350" stroke-width="1"/>
<rect x="459.50" y="161.30" width="3.2" height="3.35" fill="#ef5350"/>
<line x1="464.68" y1="148.50" x2="464.68" y2="160.60" stroke="#26a69a" stroke-width="1"/>
<rect x="463.08" y="149.54" width="3.2" height="10.06" fill="#26a69a"/>
<line x1="468.27" y1="143.00" x2="468.27" y2="148.00" stroke="#26a69a" stroke-width="1"/>
<rect x="466.67" y="145.09" width="3.2" height="1.00" fill="#26a69a"/>
<line x1="471.85" y1="143.00" x2="471.85" y2="149.00" stroke="#26a69a" stroke-width="1"/>
<rect x="470.25" y="144.78" width="3.2" height="1.92" fill="#26a69a"/>
<line x1="475.43" y1="141.70" x2="475.43" y2="149.50" stroke="#ef5350" stroke-width="1"/>
<rect x="473.83" y="143.20" width="3.2" height="5.49" fill="#ef5350"/>
<line x1="479.01" y1="147.70" x2="479.01" y2="150.70" stroke="#26a69a" stroke-width="1"/>
<rect x="477.41" y="148.66" width="3.2" height="1.00" fill="#26a69a"/>
<line x1="482.59" y1="146.70" x2="482.59" y2="158.50" stroke="#ef5350" stroke-width="1"/>
<rect x="480.99" y="149.20" width="3.2" height="7.52" fill="#ef5350"/>
<line x1="486.18" y1="157.50" x2="486.18" y2="170.00" stroke="#ef5350" stroke-width="1"/>
<rect x="484.58" y="158.00" width="3.2" height="1.98" fill="#ef5350"/>
<line x1="489.76" y1="160.40" x2="489.76" y2="168.30" stroke="#ef5350" stroke-width="1"/>
<rect x="488.16" y="162.80" width="3.2" height="2.53" fill="#ef5350"/>
<line x1="493.34" y1="142.70" x2="493.34" y2="163.00" stroke="#26a69a" stroke-width="1"/>
<rect x="491.74" y="145.12" width="3.2" height="16.88" fill="#26a69a"/>
<line x1="496.92" y1="144.70" x2="496.92" y2="151.00" stroke="#ef5350" stroke-width="1"/>
<rect x="495.32" y="147.20" width="3.2" height="3.68" fill="#ef5350"/>
<line x1="500.50" y1="145.00" x2="500.50" y2="152.50" stroke="#26a69a" stroke-width="1"/>
<rect x="498.90" y="145.32" width="3.2" height="6.28" fill="#26a69a"/>
<line x1="504.09" y1="140.20" x2="504.09" y2="147.00" stroke="#26a69a" stroke-width="1"/>
<rect x="502.49" y="142.09" width="3.2" height="4.11" fill="#26a69a"/>
<line x1="507.67" y1="136.30" x2="507.67" y2="144.00" stroke="#26a69a" stroke-width="1"/>
<rect x="506.07" y="137.81" width="3.2" height="3.39" fill="#26a69a"/>
<line x1="511.25" y1="139.50" x2="511.25" y2="148.60" stroke="#ef5350" stroke-width="1"/>
<rect x="509.65" y="140.20" width="3.2" height="6.31" fill="#ef5350"/>
<line x1="514.83" y1="155.00" x2="514.83" y2="166.50" stroke="#26a69a" stroke-width="1"/>
<rect x="513.23" y="155.85" width="3.2" height="2.95" fill="#26a69a"/>
<line x1="518.41" y1="147.50" x2="518.41" y2="156.00" stroke="#26a69a" stroke-width="1"/>
<rect x="516.81" y="149.01" width="3.2" height="1.49" fill="#26a69a"/>
<line x1="522.00" y1="137.00" x2="522.00" y2="148.70" stroke="#26a69a" stroke-width="1"/>
<rect x="520.40" y="137.77" width="3.2" height="9.03" fill="#26a69a"/>
<line x1="525.58" y1="131.00" x2="525.58" y2="149.00" stroke="#ef5350" stroke-width="1"/>
<rect x="523.98" y="132.30" width="3.2" height="9.77" fill="#ef5350"/>
<line x1="529.16" y1="136.00" x2="529.16" y2="142.00" stroke="#ef5350" stroke-width="1"/>
<rect x="527.56" y="137.10" width="3.2" height="2.11" fill="#ef5350"/>
<line x1="532.74" y1="134.20" x2="532.74" y2="141.00" stroke="#26a69a" stroke-width="1"/>
<rect x="531.14" y="135.56" width="3.2" height="1.74" fill="#26a69a"/>
<line x1="536.32" y1="126.60" x2="536.32" y2="134.20" stroke="#ef5350" stroke-width="1"/>
<rect x="534.72" y="127.90" width="3.2" height="3.60" fill="#ef5350"/>
<line x1="539.91" y1="119.00" x2="539.91" y2="128.00" stroke="#26a69a" stroke-width="1"/>
<rect x="538.31" y="119.92" width="3.2" height="6.68" fill="#26a69a"/>
<line x1="543.49" y1="117.00" x2="543.49" y2="121.00" stroke="#ef5350" stroke-width="1"/>
<rect x="541.89" y="119.00" width="3.2" height="1.58" fill="#ef5350"/>
<line x1="547.07" y1="112.50" x2="547.07" y2="117.50" stroke="#26a69a" stroke-width="1"/>
<rect x="545.47" y="114.11" width="3.2" height="2.39" fill="#26a69a"/>
<line x1="550.65" y1="111.00" x2="550.65" y2="116.50" stroke="#ef5350" stroke-width="1"/>
<rect x="549.05" y="112.00" width="3.2" height="3.89" fill="#ef5350"/>
<line x1="554.23" y1="112.00" x2="554.23" y2="126.60" stroke="#ef5350" stroke-width="1"/>
<rect x="552.63" y="115.70" width="3.2" height="1.53" fill="#ef5350"/>
<line x1="557.82" y1="108.00" x2="557.82" y2="114.00" stroke="#26a69a" stroke-width="1"/>
<rect x="556.22" y="110.62" width="3.2" height="1.18" fill="#26a69a"/>
<line x1="561.40" y1="103.00" x2="561.40" y2="108.50" stroke="#26a69a" stroke-width="1"/>
<rect x="559.80" y="103.85" width="3.2" height="3.65" fill="#26a69a"/>
<line x1="564.98" y1="97.00" x2="564.98" y2="107.00" stroke="#26a69a" stroke-width="1"/>
<rect x="563.38" y="97.71" width="3.2" height="8.59" fill="#26a69a"/>
<line x1="568.56" y1="96.50" x2="568.56" y2="106.00" stroke="#ef5350" stroke-width="1"/>
<rect x="566.96" y="97.50" width="3.2" height="7.90" fill="#ef5350"/>
<line x1="572.14" y1="101.50" x2="572.14" y2="112.00" stroke="#ef5350" stroke-width="1"/>
<rect x="570.54" y="102.80" width="3.2" height="6.56" fill="#ef5350"/>
<line x1="575.73" y1="113.30" x2="575.73" y2="122.70" stroke="#ef5350" stroke-width="1"/>
<rect x="574.13" y="115.41" width="3.2" height="1.00" fill="#ef5350"/>
<line x1="579.31" y1="107.00" x2="579.31" y2="116.00" stroke="#26a69a" stroke-width="1"/>
<rect x="577.71" y="108.17" width="3.2" height="5.73" fill="#26a69a"/>
<line x1="582.89" y1="101.00" x2="582.89" y2="107.50" stroke="#ef5350" stroke-width="1"/>
<rect x="581.29" y="103.75" width="3.2" height="1.00" fill="#ef5350"/>
<line x1="586.47" y1="98.20" x2="586.47" y2="107.50" stroke="#26a69a" stroke-width="1"/>
<rect x="584.87" y="98.81" width="3.2" height="6.29" fill="#26a69a"/>
<line x1="590.05" y1="92.20" x2="590.05" y2="105.00" stroke="#26a69a" stroke-width="1"/>
<rect x="588.45" y="94.06" width="3.2" height="9.94" fill="#26a69a"/>
<line x1="593.64" y1="88.50" x2="593.64" y2="96.80" stroke="#ef5350" stroke-width="1"/>
<rect x="592.04" y="89.30" width="3.2" height="3.89" fill="#ef5350"/>
<line x1="597.22" y1="85.20" x2="597.22" y2="94.60" stroke="#ef5350" stroke-width="1"/>
<rect x="595.62" y="91.80" width="3.2" height="1.30" fill="#ef5350"/>
<line x1="600.80" y1="85.20" x2="600.80" y2="91.00" stroke="#26a69a" stroke-width="1"/>
<rect x="599.20" y="87.98" width="3.2" height="1.62" fill="#26a69a"/>
<line x1="604.38" y1="86.00" x2="604.38" y2="96.00" stroke="#ef5350" stroke-width="1"/>
<rect x="602.78" y="86.70" width="3.2" height="6.65" fill="#ef5350"/>
<line x1="607.96" y1="84.80" x2="607.96" y2="92.50" stroke="#26a69a" stroke-width="1"/>
<rect x="606.36" y="85.17" width="3.2" height="6.53" fill="#26a69a"/>
<line x1="611.55" y1="83.00" x2="611.55" y2="91.00" stroke="#ef5350" stroke-width="1"/>
<rect x="609.95" y="83.80" width="3.2" height="5.26" fill="#ef5350"/>
<line x1="615.13" y1="83.10" x2="615.13" y2="128.00" stroke="#ef5350" stroke-width="1"/>
<rect x="613.53" y="87.40" width="3.2" height="39.83" fill="#ef5350"/>
<line x1="618.71" y1="102.60" x2="618.71" y2="112.70" stroke="#26a69a" stroke-width="1"/>
<rect x="617.11" y="105.86" width="3.2" height="5.34" fill="#26a69a"/>
<line x1="622.29" y1="100.40" x2="622.29" y2="125.60" stroke="#26a69a" stroke-width="1"/>
<rect x="620.69" y="108.04" width="3.2" height="10.36" fill="#26a69a"/>
<line x1="625.87" y1="91.00" x2="625.87" y2="114.00" stroke="#ef5350" stroke-width="1"/>
<rect x="624.27" y="99.00" width="3.2" height="3.45" fill="#ef5350"/>
<line x1="629.46" y1="93.30" x2="629.46" y2="117.00" stroke="#ef5350" stroke-width="1"/>
<rect x="627.86" y="98.20" width="3.2" height="13.02" fill="#ef5350"/>
<line x1="633.04" y1="101.20" x2="633.04" y2="115.50" stroke="#26a69a" stroke-width="1"/>
<rect x="631.44" y="103.92" width="3.2" height="10.88" fill="#26a69a"/>
<line x1="636.62" y1="86.70" x2="636.62" y2="99.00" stroke="#26a69a" stroke-width="1"/>
<rect x="635.02" y="89.06" width="3.2" height="9.14" fill="#26a69a"/>
<line x1="640.20" y1="85.30" x2="640.20" y2="91.00" stroke="#ef5350" stroke-width="1"/>
<rect x="638.60" y="88.36" width="3.2" height="1.00" fill="#ef5350"/>
<line x1="643.78" y1="86.50" x2="643.78" y2="105.00" stroke="#ef5350" stroke-width="1"/>
<rect x="642.18" y="87.30" width="3.2" height="9.23" fill="#ef5350"/>
<line x1="647.37" y1="85.50" x2="647.37" y2="96.50" stroke="#26a69a" stroke-width="1"/>
<rect x="645.77" y="88.37" width="3.2" height="7.23" fill="#26a69a"/>
<line x1="650.95" y1="74.00" x2="650.95" y2="82.50" stroke="#26a69a" stroke-width="1"/>
<rect x="649.35" y="77.24" width="3.2" height="4.46" fill="#26a69a"/>
<line x1="654.53" y1="58.50" x2="654.53" y2="66.50" stroke="#26a69a" stroke-width="1"/>
<rect x="652.93" y="59.79" width="3.2" height="6.11" fill="#26a69a"/>
<line x1="658.11" y1="51.40" x2="658.11" y2="60.20" stroke="#ef5350" stroke-width="1"/>
<rect x="656.51" y="55.55" width="3.2" height="1.00" fill="#ef5350"/>
<line x1="661.69" y1="50.00" x2="661.69" y2="64.00" stroke="#ef5350" stroke-width="1"/>
<rect x="660.09" y="52.00" width="3.2" height="4.57" fill="#ef5350"/>
<line x1="665.28" y1="58.30" x2="665.28" y2="71.50" stroke="#ef5350" stroke-width="1"/>
<rect x="663.68" y="62.10" width="3.2" height="8.73" fill="#ef5350"/>
<line x1="668.86" y1="57.50" x2="668.86" y2="71.00" stroke="#ef5350" stroke-width="1"/>
<rect x="667.26" y="59.00" width="3.2" height="8.10" fill="#ef5350"/>
<line x1="672.44" y1="57.00" x2="672.44" y2="70.00" stroke="#ef5350" stroke-width="1"/>
<rect x="670.84" y="58.30" width="3.2" height="6.34" fill="#ef5350"/>
<line x1="676.02" y1="70.90" x2="676.02" y2="82.50" stroke="#ef5350" stroke-width="1"/>
<rect x="674.42" y="77.90" width="3.2" height="3.55" fill="#ef5350"/>
<line x1="679.60" y1="69.00" x2="679.60" y2="83.00" stroke="#26a69a" stroke-width="1"/>
<rect x="678.00" y="76.28" width="3.2" height="6.02" fill="#26a69a"/>
<line x1="683.19" y1="76.50" x2="683.19" y2="94.00" stroke="#ef5350" stroke-width="1"/>
<rect x="681.59" y="77.60" width="3.2" height="14.55" fill="#ef5350"/>
<line x1="686.77" y1="88.50" x2="686.77" y2="110.00" stroke="#26a69a" stroke-width="1"/>
<rect x="685.17" y="90.38" width="3.2" height="6.62" fill="#26a69a"/>
<line x1="690.35" y1="67.00" x2="690.35" y2="80.00" stroke="#26a69a" stroke-width="1"/>
<rect x="688.75" y="68.72" width="3.2" height="9.68" fill="#26a69a"/>
<line x1="693.93" y1="63.00" x2="693.93" y2="73.50" stroke="#26a69a" stroke-width="1"/>
<rect x="692.33" y="65.76" width="3.2" height="6.94" fill="#26a69a"/>
<line x1="697.51" y1="59.50" x2="697.51" y2="68.60" stroke="#ef5350" stroke-width="1"/>
<rect x="695.91" y="61.30" width="3.2" height="3.56" fill="#ef5350"/>
<line x1="701.10" y1="68.50" x2="701.10" y2="90.80" stroke="#ef5350" stroke-width="1"/>
<rect x="699.50" y="69.40" width="3.2" height="19.16" fill="#ef5350"/>
<line x1="704.68" y1="80.00" x2="704.68" y2="106.70" stroke="#26a69a" stroke-width="1"/>
<rect x="703.08" y="89.27" width="3.2" height="12.63" fill="#26a69a"/>
<line x1="708.26" y1="85.50" x2="708.26" y2="108.30" stroke="#ef5350" stroke-width="1"/>
<rect x="706.66" y="93.00" width="3.2" height="9.17" fill="#ef5350"/>
<line x1="711.84" y1="103.40" x2="711.84" y2="122.00" stroke="#ef5350" stroke-width="1"/>
<rect x="710.24" y="108.30" width="3.2" height="5.38" fill="#ef5350"/>
<line x1="715.42" y1="98.60" x2="715.42" y2="115.70" stroke="#26a69a" stroke-width="1"/>
<rect x="713.82" y="108.49" width="3.2" height="3.11" fill="#26a69a"/>
<line x1="719.01" y1="81.70" x2="719.01" y2="131.10" stroke="#ef5350" stroke-width="1"/>
<rect x="717.41" y="88.60" width="3.2" height="41.50" fill="#ef5350"/>
<line x1="0" y1="129.5" x2="757" y2="129.5" stroke="#f23645" stroke-opacity="0.45" stroke-width="1" stroke-dasharray="1,1"/>
<circle cx="718.6" cy="487.3" r="11.6" fill="#fff"/>
<path d="M721.74,477.02 A10.75,10.75 0 1 0 729.12,485.06" fill="none" stroke="#9c27b0" stroke-width="1.6"/>
<circle cx="726.2" cy="479.6" r="3" fill="#f23645"/>
<path d="M721.6,481.7 L714.6,487.3 L722.5,486.6 L715.4,492.5" fill="none" stroke="#9c27b0" stroke-width="1.7" stroke-linecap="round" stroke-linejoin="round"/>
<circle cx="733" cy="515" r="12.6" fill="#fff"/><circle cx="733" cy="515" r="11" fill="#fff" stroke="#f23645" stroke-width="1.8"/><clipPath id="fc7330"><circle cx="733" cy="515" r="9"/></clipPath><g clip-path="url(#fc7330)"><rect x="723" y="506.00" width="20" height="3.60" fill="#ef5350"/><rect x="723" y="509.60" width="20" height="3.60" fill="#fff"/><rect x="723" y="513.20" width="20" height="3.60" fill="#ef5350"/><rect x="723" y="516.80" width="20" height="3.60" fill="#fff"/><rect x="723" y="520.40" width="20" height="3.60" fill="#ef5350"/><rect x="723" y="506" width="12.5" height="10.80" fill="#2196f3"/><circle cx="727.10" cy="508.60" r="0.75" fill="#fff"/><circle cx="727.10" cy="511.60" r="0.75" fill="#fff"/><circle cx="727.10" cy="514.60" r="0.75" fill="#fff"/><circle cx="730.10" cy="508.60" r="0.75" fill="#fff"/><circle cx="730.10" cy="511.60" r="0.75" fill="#fff"/><circle cx="730.10" cy="514.60" r="0.75" fill="#fff"/><circle cx="733.10" cy="508.60" r="0.75" fill="#fff"/><circle cx="733.10" cy="511.60" r="0.75" fill="#fff"/><circle cx="733.10" cy="514.60" r="0.75" fill="#fff"/></g>
<circle cx="729" cy="515" r="12.6" fill="#fff"/><circle cx="729" cy="515" r="11" fill="#fff" stroke="#f23645" stroke-width="1.8"/><clipPath id="fc7290"><circle cx="729" cy="515" r="9"/></clipPath><g clip-path="url(#fc7290)"><rect x="719" y="506.00" width="20" height="3.60" fill="#ef5350"/><rect x="719" y="509.60" width="20" height="3.60" fill="#fff"/><rect x="719" y="513.20" width="20" height="3.60" fill="#ef5350"/><rect x="719" y="516.80" width="20" height="3.60" fill="#fff"/><rect x="719" y="520.40" width="20" height="3.60" fill="#ef5350"/><rect x="719" y="506" width="12.5" height="10.80" fill="#2196f3"/><circle cx="723.10" cy="508.60" r="0.75" fill="#fff"/><circle cx="723.10" cy="511.60" r="0.75" fill="#fff"/><circle cx="723.10" cy="514.60" r="0.75" fill="#fff"/><circle cx="726.10" cy="508.60" r="0.75" fill="#fff"/><circle cx="726.10" cy="511.60" r="0.75" fill="#fff"/><circle cx="726.10" cy="514.60" r="0.75" fill="#fff"/><circle cx="729.10" cy="508.60" r="0.75" fill="#fff"/><circle cx="729.10" cy="511.60" r="0.75" fill="#fff"/><circle cx="729.10" cy="514.60" r="0.75" fill="#fff"/></g>
<circle cx="718" cy="515" r="12.6" fill="#fff"/><circle cx="718" cy="515" r="11" fill="#fff" stroke="#f23645" stroke-width="1.8"/><clipPath id="fc7180"><circle cx="718" cy="515" r="9"/></clipPath><g clip-path="url(#fc7180)"><rect x="708" y="506.00" width="20" height="3.60" fill="#ef5350"/><rect x="708" y="509.60" width="20" height="3.60" fill="#fff"/><rect x="708" y="513.20" width="20" height="3.60" fill="#ef5350"/><rect x="708" y="516.80" width="20" height="3.60" fill="#fff"/><rect x="708" y="520.40" width="20" height="3.60" fill="#ef5350"/><rect x="708" y="506" width="12.5" height="10.80" fill="#2196f3"/><circle cx="712.10" cy="508.60" r="0.75" fill="#fff"/><circle cx="712.10" cy="511.60" r="0.75" fill="#fff"/><circle cx="712.10" cy="514.60" r="0.75" fill="#fff"/><circle cx="715.10" cy="508.60" r="0.75" fill="#fff"/><circle cx="715.10" cy="511.60" r="0.75" fill="#fff"/><circle cx="715.10" cy="514.60" r="0.75" fill="#fff"/><circle cx="718.10" cy="508.60" r="0.75" fill="#fff"/><circle cx="718.10" cy="511.60" r="0.75" fill="#fff"/><circle cx="718.10" cy="514.60" r="0.75" fill="#fff"/></g>
<rect x="787" y="0" width="64" height="555" fill="#fff"/>
<rect x="0" y="530" width="787" height="25" fill="#fff"/>
<line x1="0" y1="530" x2="787" y2="530" stroke="#c9cbd2" stroke-width="2"/>
<text x="798" y="497.0" font-family="Liberation Sans, sans-serif" font-size="13" fill="#5d606b" stroke="#5d606b" stroke-width="0.2" textLength="51.5" lengthAdjust="spacingAndGlyphs">4,800.00</text>
<text x="798" y="455.2" font-family="Liberation Sans, sans-serif" font-size="13" fill="#5d606b" stroke="#5d606b" stroke-width="0.2" textLength="51.5" lengthAdjust="spacingAndGlyphs">5,000.00</text>
<text x="798" y="413.4" font-family="Liberation Sans, sans-serif" font-size="13" fill="#5d606b" stroke="#5d606b" stroke-width="0.2" textLength="51.5" lengthAdjust="spacingAndGlyphs">5,200.00</text>
<text x="798" y="371.6" font-family="Liberation Sans, sans-serif" font-size="13" fill="#5d606b" stroke="#5d606b" stroke-width="0.2" textLength="51.5" lengthAdjust="spacingAndGlyphs">5,400.00</text>
<text x="798" y="329.8" font-family="Liberation Sans, sans-serif" font-size="13" fill="#5d606b" stroke="#5d606b" stroke-width="0.2" textLength="51.5" lengthAdjust="spacingAndGlyphs">5,600.00</text>
<text x="798" y="288.0" font-family="Liberation Sans, sans-serif" font-size="13" fill="#5d606b" stroke="#5d606b" stroke-width="0.2" textLength="51.5" lengthAdjust="spacingAndGlyphs">5,800.00</text>
<text x="798" y="246.2" font-family="Liberation Sans, sans-serif" font-size="13" fill="#5d606b" stroke="#5d606b" stroke-width="0.2" textLength="51.5" lengthAdjust="spacingAndGlyphs">6,000.00</text>
<text x="798" y="204.4" font-family="Liberation Sans, sans-serif" font-size="13" fill="#5d606b" stroke="#5d606b" stroke-width="0.2" textLength="51.5" lengthAdjust="spacingAndGlyphs">6,200.00</text>
<text x="798" y="162.6" font-family="Liberation Sans, sans-serif" font-size="13" fill="#5d606b" stroke="#5d606b" stroke-width="0.2" textLength="51.5" lengthAdjust="spacingAndGlyphs">6,400.00</text>
<text x="798" y="120.8" font-family="Liberation Sans, sans-serif" font-size="13" fill="#5d606b" stroke="#5d606b" stroke-width="0.2" textLength="51.5" lengthAdjust="spacingAndGlyphs">6,600.00</text>
<text x="798" y="79.0" font-family="Liberation Sans, sans-serif" font-size="13" fill="#5d606b" stroke="#5d606b" stroke-width="0.2" textLength="51.5" lengthAdjust="spacingAndGlyphs">6,800.00</text>
<text x="798" y="37.2" font-family="Liberation Sans, sans-serif" font-size="13" fill="#5d606b" stroke="#5d606b" stroke-width="0.2" textLength="51.5" lengthAdjust="spacingAndGlyphs">7,000.00</text>
<rect x="788" y="0" width="63" height="33" fill="#fff"/>
<rect x="791.5" y="1.5" width="70" height="27.8" rx="4.6" fill="#fff" stroke="#e6e8ee" stroke-width="1.2"/>
<text x="802.4" y="19.4" font-family="Liberation Sans, sans-serif" font-size="12.8" fill="#131722" stroke="#131722" stroke-width="0.25" textLength="22.8" lengthAdjust="spacingAndGlyphs">USD</text>
<rect x="756" y="120" width="100" height="19.6" rx="2" fill="#f05350"/>
<text x="760.6" y="134.3" font-family="Liberation Sans, sans-serif" font-size="12.8" fill="#fff" textLength="21.1" lengthAdjust="spacingAndGlyphs">SPX</text>
<text x="797.3" y="134.3" font-family="Liberation Sans, sans-serif" font-size="12.8" fill="#fff" textLength="51.7" lengthAdjust="spacingAndGlyphs">6,538.77</text>
<line x1="787.5" y1="0" x2="787.5" y2="555" stroke="#a3a6af" stroke-width="1"/>
<text x="63.5" y="550" font-family="Liberation Sans, sans-serif" font-size="12.5" font-weight="bold" fill="#50535e" text-anchor="middle">Mar</text>
<text x="138.4" y="550" font-family="Liberation Sans, sans-serif" font-size="12.5" font-weight="bold" fill="#50535e" text-anchor="middle">Apr</text>
<text x="213.8" y="550" font-family="Liberation Sans, sans-serif" font-size="12.5" font-weight="bold" fill="#50535e" text-anchor="middle">May</text>
<text x="289.3" y="550" font-family="Liberation Sans, sans-serif" font-size="12.5" font-weight="bold" fill="#50535e" text-anchor="middle">Jun</text>
<text x="360.5" y="550" font-family="Liberation Sans, sans-serif" font-size="12.5" font-weight="bold" fill="#50535e" text-anchor="middle">Jul</text>
<text x="439.8" y="550" font-family="Liberation Sans, sans-serif" font-size="12.5" font-weight="bold" fill="#50535e" text-anchor="middle">Aug</text>
<text x="514.9" y="550" font-family="Liberation Sans, sans-serif" font-size="12.5" font-weight="bold" fill="#50535e" text-anchor="middle">Sep</text>
<text x="589.6" y="550" font-family="Liberation Sans, sans-serif" font-size="12.5" font-weight="bold" fill="#50535e" text-anchor="middle">Oct</text>
<text x="672.5" y="550" font-family="Liberation Sans, sans-serif" font-size="12.5" font-weight="bold" fill="#50535e" text-anchor="middle">Nov</text>
<text x="740.6" y="550" font-family="Liberation Sans, sans-serif" font-size="12.5" font-weight="bold" fill="#50535e" text-anchor="middle">Dec</text>
<text x="7.8" y="17.8" font-family="Liberation Sans, sans-serif" font-size="12.4" fill="#50535e" stroke="#50535e" stroke-width="0.3" textLength="21.2" lengthAdjust="spacingAndGlyphs">S&amp;P</text>
<text x="35.7" y="17.8" font-family="Liberation Sans, sans-serif" font-size="12.4" fill="#50535e" stroke="#50535e" stroke-width="0.3" textLength="19.0" lengthAdjust="spacingAndGlyphs">500</text>
<text x="60.8" y="17.8" font-family="Liberation Sans, sans-serif" font-size="12.4" fill="#50535e" stroke="#50535e" stroke-width="0.3" textLength="31.2" lengthAdjust="spacingAndGlyphs">Index</text>
<circle cx="98.2" cy="13.600000000000001" r="1.1" fill="#50535e"/>
<text x="106.5" y="17.8" font-family="Liberation Sans, sans-serif" font-size="12.4" fill="#50535e" stroke="#50535e" stroke-width="0.3" textLength="13.5" lengthAdjust="spacingAndGlyphs">1D</text>
<circle cx="127.6" cy="13.600000000000001" r="1.1" fill="#50535e"/>
<text x="134.2" y="17.8" font-family="Liberation Sans, sans-serif" font-size="12.4" fill="#50535e" stroke="#50535e" stroke-width="0.3" textLength="36.3" lengthAdjust="spacingAndGlyphs">SPCFD</text>
<text x="179.3" y="17.8" font-family="Liberation Sans, sans-serif" font-size="12.4" fill="#50535e" stroke="#50535e" stroke-width="0.3" textLength="7.5" lengthAdjust="spacingAndGlyphs">O</text>
<text x="188.1" y="17.8" font-family="Liberation Sans, sans-serif" font-size="12.4" fill="#f23645" stroke="#f23645" stroke-width="0.3" textLength="51.3" lengthAdjust="spacingAndGlyphs">6,737.93</text>
<text x="248.5" y="17.8" font-family="Liberation Sans, sans-serif" font-size="12.4" fill="#50535e" stroke="#50535e" stroke-width="0.3" textLength="7.5" lengthAdjust="spacingAndGlyphs">H</text>
<text x="257.3" y="17.8" font-family="Liberation Sans, sans-serif" font-size="12.4" fill="#f23645" stroke="#f23645" stroke-width="0.3" textLength="50.7" lengthAdjust="spacingAndGlyphs">6,770.35</text>
<text x="317.4" y="17.8" font-family="Liberation Sans, sans-serif" font-size="12.4" fill="#50535e" stroke="#50535e" stroke-width="0.3" textLength="5.3" lengthAdjust="spacingAndGlyphs">L</text>
<text x="323.6" y="17.8" font-family="Liberation Sans, sans-serif" font-size="12.4" fill="#f23645" stroke="#f23645" stroke-width="0.3" textLength="51.4" lengthAdjust="spacingAndGlyphs">6,534.05</text>
<text x="383.8" y="17.8" font-family="Liberation Sans, sans-serif" font-size="12.4" fill="#50535e" stroke="#50535e" stroke-width="0.3" textLength="6.8" lengthAdjust="spacingAndGlyphs">C</text>
<text x="392" y="17.8" font-family="Liberation Sans, sans-serif" font-size="12.4" fill="#f23645" stroke="#f23645" stroke-width="0.3" textLength="51.0" lengthAdjust="spacingAndGlyphs">6,538.77</text>
<text x="453" y="17.8" font-family="Liberation Sans, sans-serif" font-size="12.4" fill="#f23645" stroke="#f23645" stroke-width="0.3" textLength="45.4" lengthAdjust="spacingAndGlyphs">−103.38</text>
<text x="503.7" y="17.8" font-family="Liberation Sans, sans-serif" font-size="12.4" fill="#f23645" stroke="#f23645" stroke-width="0.3" textLength="49.7" lengthAdjust="spacingAndGlyphs">(−1.56%)</text>
<text x="7.8" y="37.6" font-family="Liberation Sans, sans-serif" font-size="12.4" fill="#50535e" stroke="#50535e" stroke-width="0.3" textLength="23.3" lengthAdjust="spacingAndGlyphs">SMA</text>
<text x="36.4" y="37.6" font-family="Liberation Sans, sans-serif" font-size="12.4" fill="#50535e" stroke="#50535e" stroke-width="0.3" textLength="21.5" lengthAdjust="spacingAndGlyphs">(50,</text>
<text x="63.4" y="37.6" font-family="Liberation Sans, sans-serif" font-size="12.4" fill="#50535e" stroke="#50535e" stroke-width="0.3" textLength="34.6" lengthAdjust="spacingAndGlyphs">close)</text>
<text x="106.8" y="37.6" font-family="Liberation Sans, sans-serif" font-size="12.4" fill="#2962ff" stroke="#2962ff" stroke-width="0.3" textLength="51.8" lengthAdjust="spacingAndGlyphs">6,711.04</text>
<text x="7.8" y="55.9" font-family="Liberation Sans, sans-serif" font-size="12.4" fill="#50535e" stroke="#50535e" stroke-width="0.3" textLength="23.3" lengthAdjust="spacingAndGlyphs">SMA</text>
<text x="36.4" y="55.9" font-family="Liberation Sans, sans-serif" font-size="12.4" fill="#50535e" stroke="#50535e" stroke-width="0.3" textLength="28.4" lengthAdjust="spacingAndGlyphs">(100,</text>
<text x="70.5" y="55.9" font-family="Liberation Sans, sans-serif" font-size="12.4" fill="#50535e" stroke="#50535e" stroke-width="0.3" textLength="34.5" lengthAdjust="spacingAndGlyphs">close)</text>
<text x="114.2" y="55.9" font-family="Liberation Sans, sans-serif" font-size="12.4" fill="#e65100" stroke="#e65100" stroke-width="0.3" textLength="50.8" lengthAdjust="spacingAndGlyphs">6,544.39</text>
</svg>
</body></html>
